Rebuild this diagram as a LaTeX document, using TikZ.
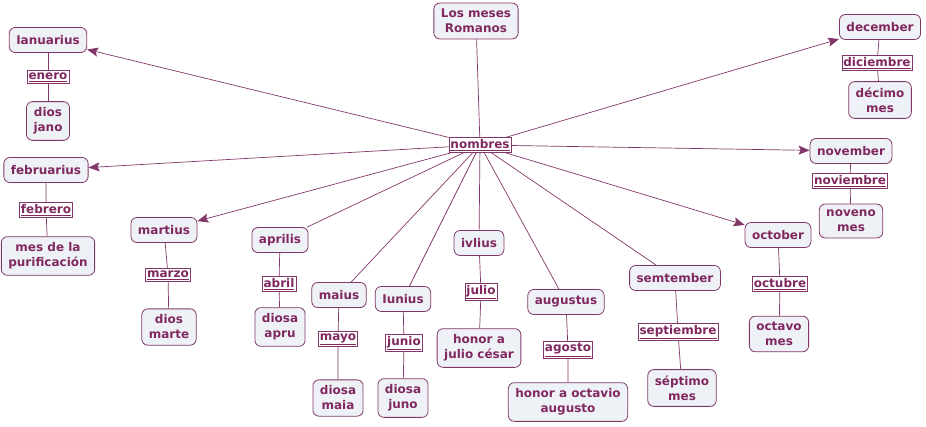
\documentclass[tikz,border=0pt]{standalone}
\usepackage{fontspec}
\setmainfont{DejaVu Sans}
\usepackage{tikz}
\usetikzlibrary{arrows.meta}
\definecolor{mesc}{RGB}{128,40,96}
\definecolor{mesline}{RGB}{130,55,105}
\definecolor{mesfill}{RGB}{238,242,246}

\begin{document}
\begin{tikzpicture}[x=1pt,y=-1pt,
    concepto/.style={draw=mesline,fill=mesfill,rounded corners=6pt,line width=0.8pt,
      text=mesc,font=\fontsize{12}{15}\selectfont\bfseries,align=center,
      inner xsep=7pt,inner ysep=6pt,minimum height=25pt},
    enlace/.style={draw=mesline,fill=white,line width=0.6pt,text=mesc,
      font=\fontsize{12}{15}\selectfont\bfseries,inner xsep=1.5pt,inner ysep=1.8pt},
    con/.style={draw=mesline,line width=0.7pt},
    flecha/.style={con,-{Stealth[length=11pt,width=9pt,inset=2pt]}}]
  \useasboundingbox (0,0) rectangle (926,426);
  % root
  \node[concepto] (root) at (476,21) {Los meses\\Romanos};
  \node[enlace] (nombres) at (480,145) {\underline{nombres}};
  % months
  \node[concepto] (ian) at (48,40) {Ianuarius};
  \node[concepto] (feb) at (46,170) {februarius};
  \node[concepto] (mar) at (164,230) {martius};
  \node[concepto] (apr) at (280,240) {aprilis};
  \node[concepto] (mai) at (339,295) {maius};
  \node[concepto] (iun) at (403,299) {Iunius};
  \node[concepto] (ivl) at (479,243) {ivlius};
  \node[concepto] (aug) at (566,302) {augustus};
  \node[concepto] (sem) at (675,278) {semtember};
  \node[concepto] (oct) at (778,235) {october};
  \node[concepto] (nov) at (851,151) {november};
  \node[concepto] (dec) at (880,27) {december};
  % spanish names
  \node[enlace] (enero) at (48,77) {\underline{enero}};
  \node[enlace] (febrero) at (46,210) {\underline{febrero}};
  \node[enlace] (marzo) at (168,275) {\underline{marzo}};
  \node[enlace] (abril) at (279,284) {\underline{abril}};
  \node[enlace] (mayo) at (338,339) {\underline{mayo}};
  \node[enlace] (junio) at (404,343) {\underline{junio}};
  \node[enlace] (julio) at (481,292) {\underline{julio}};
  \node[enlace] (agosto) at (568,350) {\underline{agosto}};
  \node[enlace] (septiembre) at (678,332) {\underline{septiembre}};
  \node[enlace] (octubre) at (780,284) {\underline{octubre}};
  \node[enlace] (noviembre) at (850,181) {\underline{noviembre}};
  \node[enlace] (diciembre) at (877,63) {\underline{diciembre}};
  % origins
  \node[concepto] (jano) at (48,121) {dios\\jano};
  \node[concepto] (purif) at (48,256) {mes de la\\purificación};
  \node[concepto] (marte) at (169,327) {dios\\marte};
  \node[concepto] (apru) at (280,327) {diosa\\apru};
  \node[concepto] (maia) at (338,398) {diosa\\maia};
  \node[concepto] (juno) at (403,398) {diosa\\juno};
  \node[concepto] (cesar) at (479,348) {honor a\\julio césar};
  \node[concepto] (octavio) at (568,402) {honor a octavio\\augusto};
  \node[concepto] (septimo) at (682,388) {séptimo\\mes};
  \node[concepto] (octavo) at (779,334) {octavo\\mes};
  \node[concepto] (noveno) at (851,221) {noveno\\mes};
  \node[concepto] (decimo) at (880,100) {décimo\\mes};
  % connectors from nombres
  \draw[con] (root) -- (nombres);
  \foreach \m in {ian,feb,mar,oct,nov,dec}
    \draw[flecha] (nombres) -- (\m);
  \foreach \m in {apr,mai,iun,ivl,aug,sem}
    \draw[con] (nombres) -- (\m);
  % month -- name -- origin
  \foreach \a/\b/\c in {ian/enero/jano,feb/febrero/purif,mar/marzo/marte,
      apr/abril/apru,mai/mayo/maia,iun/junio/juno,ivl/julio/cesar,
      aug/agosto/octavio,sem/septiembre/septimo,oct/octubre/octavo,
      nov/noviembre/noveno,dec/diciembre/decimo}
    \draw[con] (\a) -- (\b) (\b) -- (\c);
\end{tikzpicture}
\end{document}
